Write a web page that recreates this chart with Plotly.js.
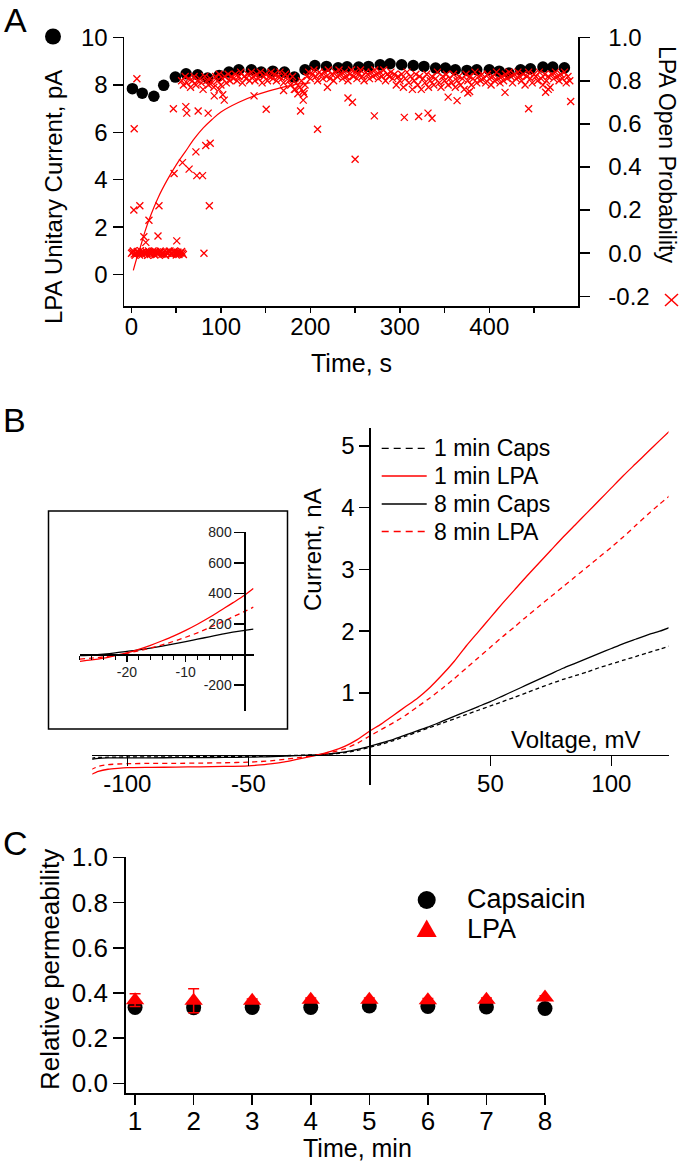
<!DOCTYPE html>
<html>
<head>
<meta charset="utf-8">
<script src="https://cdn.plot.ly/plotly-3.0.1.min.js"></script>
<style>
html,body{margin:0;padding:0;background:#fff;}
#chart{width:683px;height:1163px;}
</style>
</head>
<body>
<div id="chart"></div>
<script>
// ================= Panel A data =================
// Unitary current (black circles), pA
const currentTime = [1,12,25,36,49,61,74,85,98,109,120,134,145,158,171,182,194,205,218,231,241,254,265,278,289,302,315,327,340,351,362,375,386,400,411,422,435,446,460,471,484];
const unitaryCurrent = [7.84,7.65,7.52,7.98,8.33,8.47,8.43,8.29,8.40,8.54,8.64,8.64,8.54,8.58,8.54,8.33,8.64,8.82,8.78,8.72,8.76,8.75,8.78,8.85,8.89,8.85,8.82,8.78,8.71,8.71,8.64,8.61,8.64,8.64,8.58,8.50,8.64,8.68,8.75,8.75,8.72];

// Open probability (red crosses): closed period near zero
const closedTime = [0,1,2,3,4,5,6,7,8,9,10,11,12,13,14,15,16,17,18,19,20,21,22,23,24,25,26,27,28,29,30,31,32,33,34,35,36,37,38,39,40,41,42,43,44,45,46,47,48,49,50,51,52,53,54,55,56,57,58];
const closedValue = [0.0,0.004,0.01,-0.004,-0.01,0.0,0.005,0.008,0.0,-0.008,0.012,0.002,-0.006,0.006,0.0,-0.002,0.008,0.0,-0.01,0.01,0.004,-0.006,0.0,0.004,0.01,0.0,-0.008,0.008,0.002,-0.004,0.0,0.002,0.01,0.006,-0.005,0.0,0.006,-0.006,-0.01,0.004,0.0,0.0,0.008,0.01,-0.004,-0.004,0.0,0.006,0.01,0.0,-0.008,0.004,0.004,-0.006,0.0,0.002,0.008,0.0,-0.006];
// Open probability: scattered points during activation and later dips
const scatterTime = [2.6,9.3,30.7,19.5,13.8,16,29.6,50.6,3,6,81,87,47.6,57,64.4,72,73,79.4,83,88,46.8,60.7,61.8,74.5,85.7,92.5,98,102,103.7,137,150.6,170,183,189,192,193,208,219,242,247,250,271.5,305,321,331.5,336,354,364,376,378,417.6,444,463,466,491];
const scatterValue = [0.20,0.22,0.22,0.153,0.076,0.05,0.08,0.057,0.577,0.809,0.0,0.22,0.37,0.42,0.39,0.47,0.36,0.36,0.50,0.51,0.67,0.68,0.65,0.66,0.65,0.73,0.76,0.735,0.71,0.73,0.668,0.755,0.76,0.66,0.71,0.74,0.575,0.77,0.72,0.70,0.436,0.637,0.63,0.634,0.65,0.626,0.724,0.708,0.743,0.75,0.746,0.67,0.747,0.76,0.704];
// Open probability: steady open band
const bandTime = [56,58,60,62,64,66,68,70,72,74,
76,78,80,82,84,86,88,90,92,94,
96,98,100,102,104,106,108,110,112,114,
116,118,120,122,124,126,128,130,132,134,
136,138,140,142,144,146,148,150,152,154,
156,158,160,162,164,166,168,170,172,174,
176,178,180,182,184,186,188,190,192,194,
196,198,200,202,204,206,208,210,212,214,
216,218,220,222,224,226,228,230,232,234,
236,238,240,242,244,246,248,250,252,254,
256,258,260,262,264,266,268,270,272,274,
276,278,280,282,284,286,288,290,292,294,
296,298,300,302,304,306,308,310,312,314,
316,318,320,322,324,326,328,330,332,334,
336,338,340,342,344,346,348,350,352,354,
356,358,360,362,364,366,368,370,372,374,
376,378,380,382,384,386,388,390,392,394,
396,398,400,402,404,406,408,410,412,414,
416,418,420,422,424,426,428,430,432,434,
436,438,440,442,444,446,448,450,452,454,
456,458,460,462,464,466,468,470,472,474,
476,478,480,482,484,486,488,490];
const bandValue = [0.80,0.78,0.82,0.79,0.81,0.77,0.80,0.82,0.78,0.80,
0.81,0.79,0.76,0.82,0.80,0.78,0.81,0.79,0.77,0.82,
0.80,0.83,0.78,0.81,0.82,0.79,0.83,0.80,0.82,0.81,
0.83,0.80,0.82,0.84,0.79,0.82,0.81,0.83,0.80,0.84,
0.82,0.80,0.83,0.81,0.84,0.79,0.82,0.83,0.80,0.82,
0.84,0.81,0.83,0.80,0.82,0.84,0.81,0.79,0.83,0.82,
0.80,0.78,0.82,0.76,0.79,0.74,0.77,0.80,0.75,0.78,
0.82,0.84,0.81,0.83,0.85,0.82,0.80,0.84,0.83,0.81,
0.84,0.82,0.85,0.81,0.83,0.80,0.84,0.82,0.85,0.83,
0.81,0.84,0.82,0.80,0.83,0.85,0.82,0.84,0.81,0.83,
0.85,0.82,0.80,0.84,0.83,0.81,0.84,0.82,0.85,0.83,
0.81,0.84,0.82,0.85,0.80,0.83,0.82,0.84,0.81,0.83,
0.78,0.82,0.80,0.83,0.77,0.81,0.84,0.79,0.82,0.76,
0.80,0.83,0.78,0.82,0.76,0.81,0.79,0.83,0.77,0.80,
0.82,0.78,0.81,0.84,0.79,0.77,0.82,0.80,0.83,0.78,
0.81,0.79,0.83,0.77,0.80,0.82,0.78,0.81,0.76,0.83,
0.80,0.82,0.78,0.81,0.84,0.79,0.82,0.80,0.83,0.81,
0.79,0.83,0.81,0.78,0.82,0.80,0.84,0.81,0.79,0.82,
0.80,0.83,0.81,0.84,0.82,0.79,0.83,0.81,0.84,0.82,
0.80,0.83,0.78,0.82,0.84,0.81,0.79,0.83,0.82,0.80,
0.84,0.81,0.78,0.83,0.80,0.82,0.77,0.83,0.81,0.84,
0.82,0.80,0.83,0.81,0.84,0.79,0.82,0.80];
// Exponential fit of the activation
const fitTime = [2,5,10,15,20,30,40,50,60,70,80,90,100,120,140,160,180,200];
const fitValue = [-0.08,-0.035,0.03,0.10,0.16,0.26,0.34,0.41,0.47,0.53,0.58,0.62,0.655,0.70,0.735,0.76,0.78,0.79];

const aLeftTicks = [0,2,4,6,8,10];
const aRightTickVals = [-0.2,0,0.2,0.4,0.6,0.8,1.0];
const aRightTickText = ['-0.2','0.0','0.2','0.4','0.6','0.8','1.0'];

// ================= Panel B data =================
const bVoltage = [-115,-112,-108,-104,-100,-90,-80,-70,-60,-50,-45,-40,-35,-30,-25,-20,-15,-10,-5,0,5,10,15,20,25,30,35,40,45,50,55,60,65,70,75,80,85,90,95,100,105,110,115,120,124];
const caps1min = [-0.055,-0.045,-0.04,-0.038,-0.036,-0.035,-0.034,-0.032,-0.03,-0.028,-0.025,-0.02,-0.015,-0.01,-0.004,0.003,0.015,0.035,0.07,0.12,0.17,0.23,0.30,0.37,0.44,0.51,0.58,0.65,0.72,0.79,0.86,0.93,1.005,1.08,1.15,1.22,1.28,1.34,1.41,1.47,1.53,1.59,1.65,1.71,1.76];
const lpa1min = [-0.32,-0.27,-0.235,-0.22,-0.21,-0.205,-0.20,-0.195,-0.19,-0.18,-0.165,-0.145,-0.115,-0.075,-0.035,0.01,0.065,0.14,0.245,0.38,0.50,0.64,0.78,0.92,1.09,1.29,1.51,1.76,1.99,2.22,2.45,2.67,2.89,3.10,3.31,3.52,3.72,3.92,4.12,4.32,4.52,4.71,4.90,5.09,5.24];
const caps8min = [-0.075,-0.06,-0.052,-0.05,-0.05,-0.05,-0.048,-0.046,-0.044,-0.04,-0.036,-0.03,-0.022,-0.014,-0.006,0.005,0.02,0.045,0.085,0.135,0.19,0.25,0.32,0.39,0.46,0.54,0.62,0.70,0.78,0.86,0.95,1.04,1.13,1.22,1.31,1.40,1.48,1.56,1.64,1.72,1.80,1.87,1.94,2.00,2.06];
const lpa8min = [-0.24,-0.19,-0.16,-0.15,-0.145,-0.14,-0.14,-0.135,-0.13,-0.12,-0.11,-0.095,-0.075,-0.05,-0.025,0.005,0.045,0.10,0.185,0.30,0.41,0.52,0.64,0.78,0.92,1.07,1.23,1.40,1.57,1.74,1.91,2.07,2.24,2.40,2.56,2.72,2.88,3.04,3.20,3.36,3.53,3.71,3.89,4.06,4.19];
const bTickVals = [-100,-50,50,100];
const bTickText = ['-100','-50','50','100'];
const bCurrentTicks = [1,2,3,4,5];
const bLegendNames = ['1 min Caps','1 min LPA','8 min Caps','8 min LPA'];

// Inset (pA vs mV)
const insetVoltage = [-28,-26,-24,-22,-20,-18,-16,-14,-12,-10,-8,-6,-4,-2,0,1.5];
const insetLpa1min = [-45,-36,-24,-8,10,33,60,90,122,158,198,242,290,338,388,432];
const insetLpa8min = [-30,-24,-16,-5,8,24,42,63,87,113,142,175,210,246,282,310];
const insetCaps8min = [-8,-4,2,10,20,30,42,55,69,84,100,116,132,147,158,166];
const insetXTickVals = [-20,-10];
const insetXTickText = ['-20','-10'];
const insetYTickVals = [-200,200,400,600,800];
const insetYTickText = ['-200','200','400','600','800'];

// ================= Panel C data =================
const cTime = [1,2,3,4,5,6,7,8];
const capsaicinPerm = [0.336,0.335,0.336,0.336,0.342,0.340,0.338,0.331];
const capsaicinErr = [0.006,0.012,0.004,0.004,0.004,0.004,0.004,0.004];
const lpaPerm = [0.368,0.366,0.365,0.370,0.370,0.368,0.370,0.380];
const lpaErr = [0.028,0.053,0.008,0.008,0.008,0.008,0.008,0.008];
const cYTickVals = [0,0.2,0.4,0.6,0.8,1.0];
const cYTickText = ['0.0','0.2','0.4','0.6','0.8','1.0'];

// ================= Layout helpers =================
const W = 683, H = 1163;
const px = x => x / W;
const py = y => 1 - y / H;
const FONT = 'Liberation Sans, Arial, Helvetica, sans-serif';
const RED = '#ff0000';
const BLK = '#000000';
const frac = (dom, rng, v) => dom[0] + (v - rng[0]) / (rng[1] - rng[0]) * (dom[1] - dom[0]);

const axBase = {
  showgrid: false, zeroline: false, showline: true, linecolor: BLK, linewidth: 1.5,
  ticks: 'outside', tickcolor: BLK, tickwidth: 1.5, fixedrange: true,
  tickfont: {family: FONT, size: 24, color: BLK}
};

// A
const aXdom = [px(124), px(578)], aXrng = [-8.4, 499.2];
const aYdom = [py(306), py(37)], aYrng = [-1.326, 10.02], aY2rng = [-0.245, 1.003];
// B main
const bXdom = [px(92.3), px(668.5)], bXrng = [-114.5, 123.6];
const bYdom = [py(785), py(428)], bYrng = [-0.49, 5.29];
// B inset
const iXdom = [px(79.9), px(253.9)], iXrng = [-28, 1.6];
const iYdom = [py(710.9), py(531.7)], iYrng = [-370, 805];
// C
const cXdom = [px(125.7), px(545)], cXrng = [0.84, 8.0];
const cYdom = [py(1093.3), py(856.7)], cYrng = [-0.044, 1.003];

const traces = [
  // Panel A
  {x: currentTime, y: unitaryCurrent, xaxis: 'x', yaxis: 'y', mode: 'markers', type: 'scatter',
   marker: {size: 11.5, color: BLK}, showlegend: false, hoverinfo: 'skip'},
  {x: fitTime, y: fitValue, xaxis: 'x', yaxis: 'y2', mode: 'lines', type: 'scatter',
   line: {color: RED, width: 1.2, shape: 'spline'}, showlegend: false, hoverinfo: 'skip'},
  {x: closedTime.concat(scatterTime, bandTime), y: closedValue.concat(scatterValue, bandValue),
   xaxis: 'x', yaxis: 'y2', mode: 'markers', type: 'scatter',
   marker: {symbol: 'x-thin', size: 7, color: RED, line: {color: RED, width: 1.3}},
   showlegend: false, hoverinfo: 'skip'},
  // Panel B main
  {x: bVoltage, y: caps1min, xaxis: 'x3', yaxis: 'y3', mode: 'lines', type: 'scatter', name: bLegendNames[0],
   line: {color: BLK, width: 1.3, dash: '4px,3px', shape: 'spline', smoothing: 0.6}, showlegend: false, hoverinfo: 'skip'},
  {x: bVoltage, y: caps8min, xaxis: 'x3', yaxis: 'y3', mode: 'lines', type: 'scatter', name: bLegendNames[2],
   line: {color: BLK, width: 1.3, shape: 'spline', smoothing: 0.6}, showlegend: false, hoverinfo: 'skip'},
  {x: bVoltage, y: lpa8min, xaxis: 'x3', yaxis: 'y3', mode: 'lines', type: 'scatter', name: bLegendNames[3],
   line: {color: RED, width: 1.3, dash: '5px,4px', shape: 'spline', smoothing: 0.6}, showlegend: false, hoverinfo: 'skip'},
  {x: bVoltage, y: lpa1min, xaxis: 'x3', yaxis: 'y3', mode: 'lines', type: 'scatter', name: bLegendNames[1],
   line: {color: RED, width: 1.3, shape: 'spline', smoothing: 0.6}, showlegend: false, hoverinfo: 'skip'},
  // Panel B inset
  {x: insetVoltage, y: insetCaps8min, xaxis: 'x4', yaxis: 'y4', mode: 'lines', type: 'scatter',
   line: {color: BLK, width: 1.3, shape: 'spline'}, showlegend: false, hoverinfo: 'skip'},
  {x: insetVoltage, y: insetLpa8min, xaxis: 'x4', yaxis: 'y4', mode: 'lines', type: 'scatter',
   line: {color: RED, width: 1.3, dash: '5px,4px', shape: 'spline'}, showlegend: false, hoverinfo: 'skip'},
  {x: insetVoltage, y: insetLpa1min, xaxis: 'x4', yaxis: 'y4', mode: 'lines', type: 'scatter',
   line: {color: RED, width: 1.3, shape: 'spline'}, showlegend: false, hoverinfo: 'skip'},
  // Panel C
  {x: cTime, y: capsaicinPerm, xaxis: 'x5', yaxis: 'y5', mode: 'markers', type: 'scatter', name: 'Capsaicin',
   marker: {size: 15, color: BLK}, cliponaxis: false,
   error_y: {type: 'data', array: capsaicinErr, visible: true, color: BLK, thickness: 1.5, width: 5},
   showlegend: false, hoverinfo: 'skip'},
  {x: cTime, y: lpaPerm, xaxis: 'x5', yaxis: 'y5', mode: 'markers', type: 'scatter', name: 'LPA',
   marker: {size: 16, color: RED, symbol: 'triangle-up'}, cliponaxis: false,
   error_y: {type: 'data', array: lpaErr, visible: true, color: RED, thickness: 1.5, width: 5.5},
   showlegend: false, hoverinfo: 'skip'}
];

const ann = (text, x, y, size, extra) => Object.assign({
  text: text, x: x, y: y, xref: 'paper', yref: 'paper', showarrow: false,
  xanchor: 'center', yanchor: 'middle', font: {family: FONT, size: size, color: BLK}
}, extra || {});

const bLegendRows = [448.3, 476, 504, 531.5];
const bLegendStyles = [
  {color: BLK, dash: '7px,5px'}, {color: RED, dash: 'solid'},
  {color: BLK, dash: 'solid'}, {color: RED, dash: '7px,5px'}
];

const annotations = [
  ann('A', px(15), 1, 34, {yanchor: 'top', borderpad: 0}),
  ann('B', px(14), py(420), 34),
  ann('C', px(15), py(843), 34),
  ann('LPA Unitary Current, pA', px(54), py(197), 24, {textangle: -90}),
  ann('LPA Open Probability', px(667), py(154), 23, {textangle: 90, borderpad: 0}),
  ann('Time, s', px(351), py(363), 25),
  ann('Current, nA', px(312), py(550), 24, {textangle: -90}),
  ann('Voltage, mV', px(642), py(739), 24, {xanchor: 'right'}),
  ann('Relative permeability', px(50), py(970), 26, {textangle: -90}),
  ann('Time, min', px(357), 0, 25, {yanchor: 'bottom', borderpad: 0}),
  ann('Capsaicin', px(465), py(899), 27, {xanchor: 'left'}),
  ann('LPA', px(465), py(929), 27, {xanchor: 'left'})
];
bLegendNames.forEach((n, i) => {
  annotations.push(ann(n, px(431.7), py(bLegendRows[i]), 23, {xanchor: 'left'}));
});

const shapes = [
  // inset frame
  {type: 'rect', xref: 'paper', yref: 'paper', x0: px(48.5), x1: px(287.5), y0: py(729), y1: py(511),
   line: {color: BLK, width: 1.5}},
  // A legend symbols
  {type: 'circle', xref: 'paper', yref: 'paper', x0: px(45), x1: px(61), y0: py(44.5), y1: py(28.5),
   fillcolor: BLK, line: {color: BLK, width: 0}},
  {type: 'line', xref: 'paper', yref: 'paper', x0: px(665), x1: px(678), y0: py(294), y1: py(306),
   line: {color: RED, width: 1.5}},
  {type: 'line', xref: 'paper', yref: 'paper', x0: px(665), x1: px(678), y0: py(306), y1: py(294),
   line: {color: RED, width: 1.5}},
  // C legend symbols
  {type: 'circle', xref: 'paper', yref: 'paper', x0: px(417.7), x1: px(435.7), y0: py(909), y1: py(891),
   fillcolor: BLK, line: {color: BLK, width: 0}},
  {type: 'path', xref: 'paper', yref: 'paper',
   path: 'M ' + px(416.7) + ',' + py(937) + ' L ' + px(436.7) + ',' + py(937) + ' L ' + px(426.7) + ',' + py(919.5) + ' Z',
   fillcolor: RED, line: {color: RED, width: 0}}
];
bLegendRows.forEach((r, i) => {
  shapes.push({type: 'line', xref: 'paper', yref: 'paper', x0: px(381.7), x1: px(426.7), y0: py(r), y1: py(r),
    line: {color: bLegendStyles[i].color, width: 1.3, dash: bLegendStyles[i].dash}});
});

const layout = {
  width: W, height: H, margin: {l: 0, r: 0, t: 0, b: 0, pad: 0},
  paper_bgcolor: '#fff', plot_bgcolor: 'rgba(0,0,0,0)', showlegend: false,
  font: {family: FONT, color: BLK},
  // Panel A
  xaxis: Object.assign({}, axBase, {domain: aXdom, range: aXrng, anchor: 'y', tick0: 0, dtick: 100, ticklen: 5,
    ticklabelstandoff: -6,
    minor: {dtick: 50, tick0: 0, ticks: 'outside', ticklen: 5, tickwidth: 1.5, tickcolor: BLK, showgrid: false}}),
  yaxis: Object.assign({}, axBase, {domain: aYdom, range: aYrng, anchor: 'x', tickvals: aLeftTicks, ticklen: 10}),
  yaxis2: Object.assign({}, axBase, {domain: aYdom, range: aY2rng, anchor: 'x', overlaying: 'y', side: 'right',
    tickvals: aRightTickVals, ticktext: aRightTickText, ticklen: 10, ticklabelstandoff: 14}),
  // Panel B main
  xaxis3: Object.assign({}, axBase, {domain: bXdom, range: bXrng, anchor: 'free',
    position: frac(bYdom, bYrng, 0), tickvals: bTickVals, ticktext: bTickText, ticklen: 10, ticklabelstandoff: -3}),
  yaxis3: Object.assign({}, axBase, {domain: bYdom, range: bYrng, anchor: 'free',
    position: frac(bXdom, bXrng, 0), tickvals: bCurrentTicks, ticklen: 10}),
  // Panel B inset
  xaxis4: Object.assign({}, axBase, {domain: iXdom, range: iXrng, anchor: 'free', linewidth: 1.3,
    position: frac(iYdom, iYrng, 0), tickvals: insetXTickVals, ticktext: insetXTickText, ticklen: 6, tickwidth: 1.2,
    ticklabelstandoff: -2,
    tickfont: {family: FONT, size: 14, color: '#222'},
    minor: {dtick: 2, tick0: 0, ticks: 'outside', ticklen: 4, tickwidth: 1, tickcolor: BLK, showgrid: false}}),
  yaxis4: Object.assign({}, axBase, {domain: iYdom, range: iYrng, anchor: 'free', linewidth: 1.3,
    position: frac(iXdom, iXrng, 0), tickvals: insetYTickVals, ticktext: insetYTickText, ticklen: 10, tickwidth: 1.2,
    tickfont: {family: FONT, size: 14, color: '#222'}}),
  // Panel C
  xaxis5: Object.assign({}, axBase, {domain: cXdom, range: cXrng, anchor: 'y5', tickvals: cTime, ticklen: 10,
    ticklabelstandoff: -6, tickfont: {family: FONT, size: 26, color: BLK}}),
  yaxis5: Object.assign({}, axBase, {domain: cYdom, range: cYrng, anchor: 'x5', tickvals: cYTickVals,
    ticktext: cYTickText, ticklen: 11, tickfont: {family: FONT, size: 26, color: BLK}}),
  annotations: annotations,
  shapes: shapes
};

Plotly.newPlot('chart', traces, layout, {displayModeBar: false, staticPlot: true});
</script>
</body>
</html>
